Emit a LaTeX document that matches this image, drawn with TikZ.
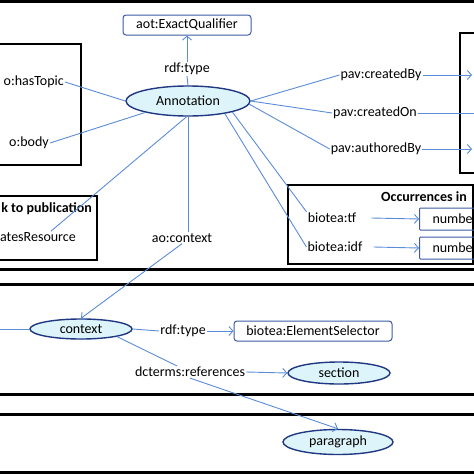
\documentclass[tikz,border=0pt]{standalone}
\usepackage{fontspec}
\setmainfont{Carlito}
\usetikzlibrary{arrows.meta,shapes.geometric}

\definecolor{linkblue}{RGB}{90,140,215}
\definecolor{clsedge}{RGB}{32,56,130}
\definecolor{clsfill}{RGB}{221,245,250}
\definecolor{litedge}{RGB}{60,90,165}

\tikzset{
  cls/.style={ellipse, draw=clsedge, fill=clsfill, line width=1.4pt, inner sep=0pt},
  lit/.style={rectangle, draw=litedge, rounded corners=3pt, line width=1pt, inner sep=0pt},
  prop/.style={inner sep=1pt},
  link/.style={draw=linkblue, line width=0.9pt},
  tip/.style={-{Straight Barb[length=4pt,width=9pt]}},
  frame/.style={draw=black, line width=1.3pt},
  bar/.style={draw=black, line width=3pt},
  boldtext/.style={font=\fontsize{14}{16}\selectfont\bfseries},
}

\begin{document}
\begin{tikzpicture}[x=1pt,y=-1pt,font=\fontsize{14}{16}\selectfont]

\useasboundingbox (0,0) rectangle (474,474);
\clip (0,0) rectangle (474,474);

\draw[frame] (-5,44) rectangle (81,165);
\draw[frame] (-5,196) rectangle (97,260);
\draw[frame] (460,33) rectangle (480,173);
\draw[frame] (288,185) rectangle (473,264);

\foreach \y in {1.5,269,284,394,414,472.5}
  \draw[bar] (-5,\y) -- (480,\y);

\node[lit, minimum width=128pt, minimum height=20pt] (qual) at (187,25) {aot:ExactQualifier};
\node[cls, minimum width=124pt, minimum height=30pt] (ann) at (188,101) {Annotation};
\node[prop] (type1) at (187,69) {rdf:type};
\node[prop, anchor=east] (topic) at (65,82) {o:hasTopic};
\node[prop, anchor=east] (body) at (50,143) {o:body};
\node[prop, anchor=east, boldtext] (pub) at (93,209) {k to publication};
\node[prop, anchor=east] (res) at (77,237) {atesResource};
\node[prop] (ctxprop) at (182,238) {ao:context};
\node[prop] (cby) at (381,75) {pav:createdBy};
\node[prop] (con) at (375,113) {pav:createdOn};
\node[prop] (aby) at (376,149) {pav:authoredBy};
\node[prop, anchor=west, boldtext] (occ) at (380,197) {Occurrences in};
\node[prop] (tf) at (332,218) {biotea:tf};
\node[prop] (idf) at (335,247) {biotea:idf};
\node[lit, anchor=west, rounded corners=1pt, minimum height=22pt, text width=50pt, inner xsep=13pt] (num1) at (419,219) {numbe};
\node[lit, anchor=west, rounded corners=1pt, minimum height=22pt, text width=50pt, inner xsep=13pt] (num2) at (419,248) {numbe};

\node[cls, minimum width=102pt, minimum height=20pt] (ctx) at (81,329) {context};
\node[prop] (type2) at (183,331) {rdf:type};
\node[lit, minimum width=158pt, minimum height=20pt] (sel) at (313,331) {biotea:ElementSelector};
\node[prop] (refs) at (190,372) {dcterms:references};
\node[cls, minimum width=102pt, minimum height=22pt] (sec) at (339,373) {section};
\node[cls, minimum width=110pt, minimum height=25pt] (para) at (338,442) {paragraph};

\coordinate (ctxin) at (-5,329);
\coordinate (cbyend) at (472,75);
\coordinate (conend) at (480,113);
\coordinate (abyend) at (472,149);

\draw[link] (ann.north) -- (type1.south);
\draw[link,tip] (type1.north) -- (qual.south);
\draw[link] (topic.east) -- (ann.west);
\draw[link] (body.east) -- (ann.195);
\draw[link] (res.24) -- (ann.265);
\draw[link] (ann.south) -- (ann.south |- ctxprop.north);
\draw[link,tip] (ctxprop.south) -- (ctx.north);

\draw[link] (ann.east) -- (cby.west);
\draw[link,tip] (cby.east) -- (cbyend);
\draw[link] (ann.east) -- (con.west);
\draw[link] (con.east) -- (conend);
\draw[link] (ann.-3) -- (aby.west);
\draw[link,tip] (aby.east) -- (abyend);
\draw[link] (ann.-14) -- (tf.north west);
\draw[link] (ann.-19) -- (idf.west);
\draw[link,tip] ([xshift=14pt]tf.east) -- (num1.west);
\draw[link,tip] ([xshift=10pt]idf.east) -- (num2.west);

\draw[link] (ctxin) -- (ctx.west);
\draw[link] (ctx.east) -- (type2.west);
\draw[link,tip] (type2.east) -- (sel.west);
\draw[link] (ctx.-12) -- (refs.155);
\draw[link,tip] (refs.east) -- (sec.west);
\draw[link,tip] (refs.south) -- (para.north);

\end{tikzpicture}
\end{document}
